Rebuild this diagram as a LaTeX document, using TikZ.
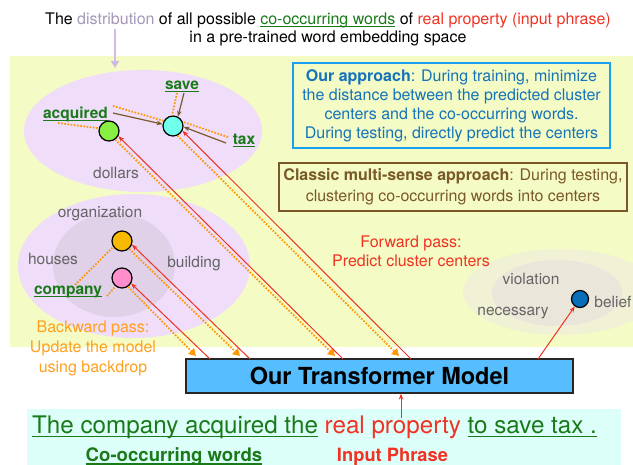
\documentclass[tikz,border=0pt]{standalone}
\usepackage{fontspec}
\setmainfont{TeX Gyre Heros}
\usetikzlibrary{arrows.meta}
\definecolor{bgyellow}{RGB}{244,251,196}
\definecolor{bgcyan}{RGB}{221,255,250}
\definecolor{lav}{RGB}{239,221,250}
\definecolor{lavdark}{RGB}{224,208,232}
\definecolor{grayout}{RGB}{241,241,214}
\definecolor{grayin}{RGB}{234,230,218}
\definecolor{labelgray}{RGB}{100,100,100}
\definecolor{dgreen}{RGB}{26,122,26}
\definecolor{myred}{RGB}{240,50,35}
\definecolor{orangeline}{RGB}{255,152,0}
\definecolor{orangetext}{RGB}{255,160,30}
\definecolor{bluebord}{RGB}{25,160,240}
\definecolor{bluetext}{RGB}{20,115,185}
\definecolor{mybrown}{RGB}{122,88,40}
\definecolor{tblue}{RGB}{86,190,255}
\definecolor{distc}{RGB}{165,150,185}
\definecolor{lavline}{RGB}{205,188,228}
\definecolor{fgreen}{RGB}{136,240,66}
\definecolor{fcyan}{RGB}{112,255,235}
\definecolor{forange}{RGB}{248,186,0}
\definecolor{fpink}{RGB}{255,143,204}
\definecolor{fblue}{RGB}{8,110,185}
\newcommand\ulx[1]{\setbox0\hbox{#1}\rlap{\rule[-0.14em]{\wd0}{0.075em}}\box0}
\newcommand\fs[1]{\fontsize{#1}{#1}\selectfont}
\tikzset{
  ctr/.style={circle, draw=black, line width=1.2pt, minimum size=20pt, inner sep=0pt},
  wordlab/.style={anchor=base, inner sep=0pt, text=dgreen, font=\fs{15.5}\bfseries},
  graylab/.style={anchor=base, inner sep=0pt, text=labelgray, font=\fs{15.5}},
  txt/.style={anchor=base, inner sep=0pt, font=\fs{16}},
  fwd/.style={draw=myred, line width=1pt, -{Stealth[length=6pt,width=4.5pt]}},
  bwd/.style={draw=orangeline, line width=1.8pt, dash pattern=on 1.6pt off 1.6pt, -{Triangle[length=7pt,width=8pt]}},
  dist/.style={draw=orangeline, line width=1.8pt, dash pattern=on 1.6pt off 1.6pt},
  clus/.style={draw=mybrown, line width=1.2pt, -{Stealth[length=6pt,width=4.5pt]}}
}
\begin{document}
\begin{tikzpicture}[x=1pt,y=-1pt]
\useasboundingbox (0,0) rectangle (633,465);
% backgrounds
\fill[bgyellow] (10,56) rectangle (633,347);
\fill[bgcyan] (27,409) rectangle (621,465);
% clusters
\fill[lav] (134,266) ellipse [x radius=116pt, y radius=72pt];
\fill[lav] (143,131) ellipse [x radius=119pt, y radius=61pt];
\fill[lavdark] (114,265) ellipse [x radius=61pt, y radius=52pt];
\fill[grayout] (560,292) ellipse [x radius=97pt, y radius=43pt];
\fill[grayin] (557,293) ellipse [x radius=65pt, y radius=33pt];
% title
\node[txt] (title1) at (328,25) {The \textcolor{distc}{distribution} of all possible \textcolor{dgreen}{\ulx{co-occurring words}} of \textcolor{myred}{real property (input phrase)}};
\node[txt] (title2) at (328,43) {in a pre-trained word embedding space};
\coordinate (dtop) at (115,29);
\coordinate (dbot) at (115,68);
\draw[lavline, line width=1.5pt, -{Triangle[length=7pt,width=8pt]}] (dtop) -- (dbot);
% word labels
\node[wordlab] (save) at (182,90) {\ulx{save}};
\node[wordlab] (acq) at (75.5,119) {\ulx{acquired}};
\node[wordlab] (tax) at (244,145) {\ulx{tax}};
\node[wordlab] (comp) at (68,295) {\ulx{company}};
\node[graylab] (dollars) at (116,179) {dollars};
\node[graylab] (org) at (100,218) {organization};
\node[graylab] (houses) at (53,265) {houses};
\node[graylab] (build) at (194,268) {building};
\node[graylab] (viol) at (531,285) {violation};
\node[graylab] (nec) at (513,316) {necessary};
\node[graylab] (belief) at (613,308) {belief};
% pass labels
\node[txt, text=orangetext] (bw1) at (93,333) {Backward pass:};
\node[txt, text=orangetext] (bw2) at (93,353) {Update the model};
\node[txt, text=orangetext] (bw3) at (93,373) {using backdrop};
\node[txt, text=myred] (fw1) at (411,248) {Forward pass:};
\node[txt, text=myred] (fw2) at (411,267) {Predict cluster centers};
% approach boxes
\node[draw=bluebord, line width=2pt, minimum width=317pt, minimum height=85pt, inner sep=0pt, align=center, text=bluetext, font=\fontsize{16}{19}\selectfont] (ours) at (451.5,105.5) {{\bfseries Our approach}: During training, minimize\\the distance between the predicted cluster\\centers and the co-occurring words.\\During testing, directly predict the centers};
\node[draw=mybrown, line width=2pt, minimum width=348pt, minimum height=48pt, inner sep=0pt, align=center, text=mybrown, font=\fontsize{16}{21}\selectfont] (classic) at (453,187) {{\bfseries Classic multi-sense approach}: During testing,\\clustering co-occurring words into centers};
% transformer
\node[draw=black!85, line width=1.3pt, fill=tblue, minimum width=387pt, minimum height=34pt, inner sep=0pt, font=\fs{23.5}\bfseries] (tm) at (379.5,376) {Our Transformer Model};
% sentence
\node[anchor=base, inner sep=0pt, font=\fs{24.2}] (sent) at (314.5,434) {\textcolor{dgreen}{\ulx{The company acquired the}} \textcolor{myred}{real property} \textcolor{dgreen}{\ulx{to save tax .}}};
\node[anchor=base, inner sep=0pt, font=\fs{18.6}\bfseries, text=dgreen] (cow) at (174,462) {\ulx{Co-occurring words}};
\node[anchor=base, inner sep=0pt, font=\fs{18.3}\bfseries, text=myred] (inp) at (392.5,462) {Input Phrase};
\coordinate (sa) at (401,418);
\draw[fwd] (sa) -- (tm.south -| sa);
% cluster centers
\node[ctr, fill=fgreen] (cgreen) at (109,131) {};
\node[ctr, fill=fcyan] (ccyan) at (173,126) {};
\node[ctr, fill=forange] (corange) at (122,241) {};
\node[ctr, fill=fpink] (cpink) at (122,278) {};
\node[ctr, fill=fblue, minimum size=17pt] (cblue) at (580,299) {};
% coordinates on the transformer box
\coordinate (pR1) at (210,359);
\coordinate (pR2) at (250,359);
\coordinate (pR3) at (343,359);
\coordinate (pR4) at (411,359);
\coordinate (pR5) at (538,359);
\coordinate (pB1) at (196,356);
\coordinate (pB2) at (240,356);
\coordinate (pB3) at (335,356);
\coordinate (pB4) at (399,356);
% backward (dotted) arrows
\draw[bwd] (cpink.-55) -- (pB1);
\draw[bwd] (corange.-48) -- (pB2);
\draw[bwd] (cgreen.-54) -- (pB3);
\draw[bwd] (ccyan.-65) -- (pB4);
% forward arrows
\draw[fwd] (pR1) -- (cpink.-31);
\draw[fwd] (pR2) -- (corange.-20);
\draw[fwd] (pR3) -- (cgreen.-29);
\draw[fwd] (pR4) -- (ccyan.-27);
\draw[fwd] (pR5) -- (cblue);
% word-to-center distances
\coordinate (acqA) at (58,123);
\coordinate (acqB) at (113,106);
\coordinate (acqC) at (113,113);
\coordinate (saveA) at (177,93);
\coordinate (saveB) at (184,93);
\coordinate (taxA) at (228,137);
\coordinate (taxB) at (226,143);
\coordinate (compA) at (75,285);
\coordinate (compB) at (107,296);
\draw[dist] (acqA) -- (cgreen.165);
\draw[dist] (acqB) -- (ccyan.151);
\draw[dist] (saveA) -- (ccyan.95);
\draw[dist] (taxA) -- (ccyan.23);
\draw[dist] (compA) -- (corange.-146);
\draw[dist] (compB) -- (cpink.-128);
% classic clustering arrows
\draw[clus] (acqC) -- (ccyan.170);
\draw[clus] (saveB) -- (ccyan.62);
\draw[clus] (taxB) -- (ccyan.-5);
\end{tikzpicture}
\end{document}
